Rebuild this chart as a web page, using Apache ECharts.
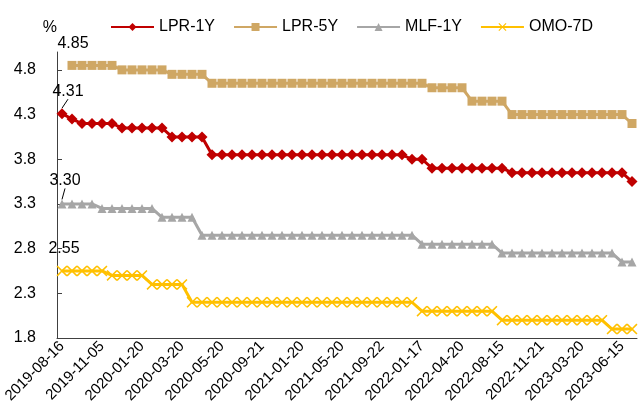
<!DOCTYPE html>
<html>
<head>
<meta charset="utf-8">
<script src="https://cdn.jsdelivr.net/npm/echarts@6/dist/echarts.min.js"></script>
<style>
  html, body { margin: 0; padding: 0; background: #fff; }
  #chart { width: 638px; height: 419px; }
</style>
</head>
<body>
<div id="chart"></div>
<script>
// categories (release dates)
var dates = [
  "2019-08-16", "2019-08-20", "2019-09-20", "2019-10-21", "2019-11-05", "2019-11-18",
  "2019-11-20", "2019-12-20", "2020-01-20", "2020-02-03", "2020-02-17", "2020-02-20",
  "2020-03-20", "2020-03-30", "2020-04-15", "2020-04-20", "2020-05-20", "2020-06-22",
  "2020-07-20", "2020-08-20", "2020-09-21", "2020-10-20", "2020-11-20", "2020-12-21",
  "2021-01-20", "2021-02-20", "2021-03-22", "2021-04-20", "2021-05-20", "2021-06-21",
  "2021-07-20", "2021-08-20", "2021-09-22", "2021-10-20", "2021-11-22", "2021-12-20",
  "2022-01-17", "2022-01-20", "2022-02-21", "2022-03-21", "2022-04-20", "2022-05-20",
  "2022-06-20", "2022-07-20", "2022-08-15", "2022-08-22", "2022-09-20", "2022-10-20",
  "2022-11-21", "2022-12-20", "2023-01-20", "2023-02-20", "2023-03-20", "2023-04-20",
  "2023-05-22", "2023-06-13", "2023-06-15", "2023-06-20"
];

var lpr1y = [
  4.31, 4.25, 4.20, 4.20, 4.20, 4.20, 4.15, 4.15, 4.15, 4.15, 4.15, 4.05,
  4.05, 4.05, 4.05, 3.85, 3.85, 3.85, 3.85, 3.85, 3.85, 3.85, 3.85, 3.85,
  3.85, 3.85, 3.85, 3.85, 3.85, 3.85, 3.85, 3.85, 3.85, 3.85, 3.85, 3.80,
  3.80, 3.70, 3.70, 3.70, 3.70, 3.70, 3.70, 3.70, 3.70, 3.65, 3.65, 3.65,
  3.65, 3.65, 3.65, 3.65, 3.65, 3.65, 3.65, 3.65, 3.65, 3.55
];

var lpr5y = [
  null, 4.85, 4.85, 4.85, 4.85, 4.85, 4.80, 4.80, 4.80, 4.80, 4.80, 4.75,
  4.75, 4.75, 4.75, 4.65, 4.65, 4.65, 4.65, 4.65, 4.65, 4.65, 4.65, 4.65,
  4.65, 4.65, 4.65, 4.65, 4.65, 4.65, 4.65, 4.65, 4.65, 4.65, 4.65, 4.65,
  4.65, 4.60, 4.60, 4.60, 4.60, 4.45, 4.45, 4.45, 4.45, 4.30, 4.30, 4.30,
  4.30, 4.30, 4.30, 4.30, 4.30, 4.30, 4.30, 4.30, 4.30, 4.20
];

var mlf1y = [
  3.30, 3.30, 3.30, 3.30, 3.25, 3.25, 3.25, 3.25, 3.25, 3.25, 3.15, 3.15,
  3.15, 3.15, 2.95, 2.95, 2.95, 2.95, 2.95, 2.95, 2.95, 2.95, 2.95, 2.95,
  2.95, 2.95, 2.95, 2.95, 2.95, 2.95, 2.95, 2.95, 2.95, 2.95, 2.95, 2.95,
  2.85, 2.85, 2.85, 2.85, 2.85, 2.85, 2.85, 2.85, 2.75, 2.75, 2.75, 2.75,
  2.75, 2.75, 2.75, 2.75, 2.75, 2.75, 2.75, 2.75, 2.65, 2.65
];

var omo7d = [
  2.55, 2.55, 2.55, 2.55, 2.55, 2.50, 2.50, 2.50, 2.50, 2.40, 2.40, 2.40,
  2.40, 2.20, 2.20, 2.20, 2.20, 2.20, 2.20, 2.20, 2.20, 2.20, 2.20, 2.20,
  2.20, 2.20, 2.20, 2.20, 2.20, 2.20, 2.20, 2.20, 2.20, 2.20, 2.20, 2.20,
  2.10, 2.10, 2.10, 2.10, 2.10, 2.10, 2.10, 2.10, 2.00, 2.00, 2.00, 2.00,
  2.00, 2.00, 2.00, 2.00, 2.00, 2.00, 2.00, 1.90, 1.90, 1.90
];

var yTicks = [1.8, 2.3, 2.8, 3.3, 3.8, 4.3, 4.8];

var FONT = "Liberation Sans";
var crossPath = "path://M0,1L1,0L5,4L9,0L10,1L6,5L10,9L9,10L5,6L1,10L0,9L4,5Z";

// first point of each series gets a value label
function withFirstLabel(arr) {
  var done = false;
  return arr.map(function(v) {
    if (!done && v != null) {
      done = true;
      return { value: v, label: { show: true } };
    }
    return v;
  });
}

function makeSeries(name, arr, color, symbol, size, shift) {
  return {
    name: name,
    type: "line",
    data: withFirstLabel(arr),
    symbol: symbol,
    symbolSize: size,
    showAllSymbol: true,
    lineStyle: { color: color, width: 3 },
    itemStyle: { color: color },
    label: {
      show: false,
      position: "top",
      distance: 5,
      color: "#000",
      fontFamily: FONT,
      fontSize: 16,
      formatter: function(p) { return p.value.toFixed(2); }
    },
    labelLine: { show: shift.line, lineStyle: { color: "#000", width: 1 } },
    labelLayout: { dx: shift.dx, dy: shift.dy },
    emphasis: { disabled: true },
    z: shift.z
  };
}

var myChart = echarts.init(document.getElementById("chart"));
var option = {
  animation: false,
  textStyle: { fontFamily: FONT },
  legend: {
    top: 14,
    left: 105,
    itemWidth: 43,
    itemHeight: 10,
    itemGap: 18,
    textStyle: { color: "#000", fontSize: 16, fontFamily: FONT },
    data: ["LPR-1Y", "LPR-5Y", "MLF-1Y", "OMO-7D"]
  },
  grid: {
    left: 57,
    right: 1,
    top: 52,
    bottom: 81
  },
  xAxis: {
    type: "category",
    data: dates,
    boundaryGap: true,
    axisLine: { lineStyle: { color: "#404040", width: 1 } },
    axisTick: { inside: true, interval: 0, length: 5, lineStyle: { color: "#404040" } },
    axisLabel: {
      interval: 3,
      rotate: 45,
      margin: 6,
      color: "#000",
      fontSize: 15,
      fontFamily: FONT
    }
  },
  yAxis: {
    type: "value",
    name: "%",
    nameLocation: "end",
    nameGap: 16,
    nameTextStyle: { color: "#000", fontSize: 16, fontFamily: FONT, align: "right", padding: [0, 0, 0, 0] },
    min: 1.8,
    max: 5.0,
    interval: 0.5,
    splitLine: { show: false },
    axisLine: { show: true, lineStyle: { color: "#404040", width: 1 } },
    axisTick: { show: true, inside: true, length: 5, customValues: yTicks, lineStyle: { color: "#404040" } },
    axisLabel: {
      customValues: yTicks,
      margin: 21,
      color: "#000",
      fontSize: 16,
      fontFamily: FONT,
      formatter: function(v) { return v.toFixed(1); }
    }
  },
  series: [
    makeSeries("LPR-1Y", lpr1y, "#C00000", "diamond", 11, { dx: 6, dy: -4, line: true, z: 5 }),
    makeSeries("LPR-5Y", lpr5y, "#CFA764", "rect", 9, { dx: 1, dy: -4, line: false, z: 4 }),
    makeSeries("MLF-1Y", mlf1y, "#A6A6A6", "triangle", 9, { dx: 3, dy: -6, line: true, z: 3 }),
    makeSeries("OMO-7D", omo7d, "#FFC000", crossPath, 11, { dx: 2, dy: -4, line: false, z: 2 })
  ]
};
myChart.setOption(option);
window.addEventListener("resize", function() {
  myChart.resize();
});
</script>
</body>
</html>
